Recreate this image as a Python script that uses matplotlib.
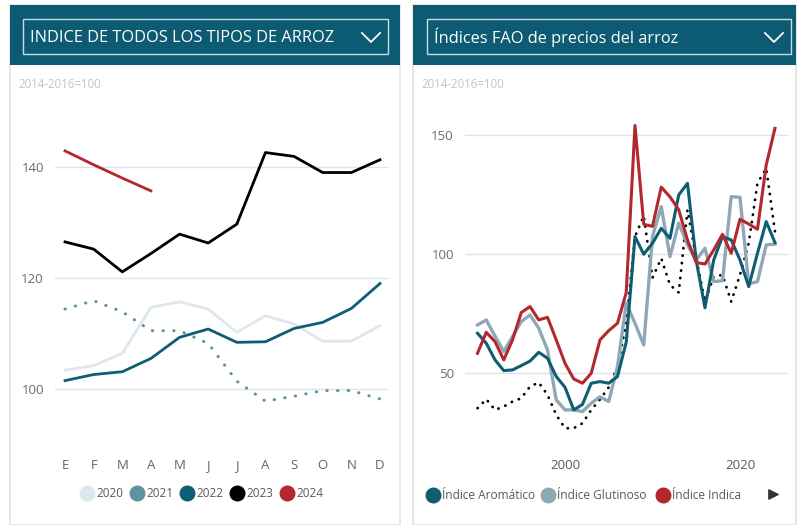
import matplotlib
matplotlib.use("Agg")
import matplotlib.pyplot as plt
from matplotlib.patches import Rectangle
import numpy as np

# ---- datos: indice de todos los tipos de arroz (2014-2016=100) ----
meses = ["E", "F", "M", "A", "M", "J", "J", "A", "S", "O", "N", "D"]
anios = ["2020", "2021", "2022", "2023", "2024"]
v2020 = [103.4, 104.2, 106.4, 114.7, 115.7, 114.4, 110.2, 113.2, 111.7, 108.6, 108.6, 111.4]
v2021 = [114.4, 115.9, 113.9, 110.5, 110.5, 108.2, 101.4, 97.8, 98.7, 99.7, 99.7, 98.2]
v2022 = [101.5, 102.6, 103.1, 105.5, 109.3, 110.8, 108.4, 108.5, 110.9, 112.0, 114.5, 119.0]
v2023 = [126.5, 125.2, 121.1, 124.4, 127.9, 126.3, 129.7, 142.6, 141.9, 139.0, 139.0, 141.3]
v2024 = [142.9, 140.4, 138.0, 135.7]

# ---- datos: indices FAO de precios del arroz, anuales ----
years = list(range(1990, 2025))
aromatico = [66.7, 62.5, 55.5, 51.0, 51.3, 53.1, 55.0, 58.7, 56.2, 48.5,
             44.0, 34.5, 36.8, 45.7, 46.4, 45.7, 48.5, 63.0, 107.3, 99.9,
             104.5, 110.8, 106.6, 124.8, 129.7, 97.2, 77.4, 97.5, 107.3, 105.9,
             97.5, 86.3, 100.3, 113.6, 104.8]
glutinoso = [70.2, 72.3, 65.5, 59.0, 65.3, 71.6, 74.4, 68.8, 59.7, 38.7,
             34.5, 34.5, 33.8, 37.3, 40.0, 38.0, 52.7, 79.3, 70.9, 61.8,
             107.3, 119.9, 98.9, 113.0, 103.8, 97.5, 102.4, 88.4, 88.8, 124.1,
             123.8, 87.4, 88.4, 103.8, 104.2]
indica = [58.3, 67.1, 63.2, 55.5, 63.9, 75.4, 77.9, 72.3, 73.4, 63.9,
          54.1, 47.5, 45.7, 49.9, 63.9, 67.8, 70.9, 83.8, 154.0, 112.5,
          111.6, 128.1, 124.0, 118.6, 105.9, 96.4, 95.8, 101.7, 108.3, 100.3,
          114.6, 112.6, 110.4, 137.4, 152.8]
japonica = [35.2, 39.0, 34.5, 35.9, 38.0, 39.4, 44.3, 46.0, 40.8, 32.4,
            26.8, 26.8, 28.9, 34.5, 38.9, 44.0, 52.5, 70.9, 107.3, 116.0,
            90.0, 98.2, 87.0, 83.8, 118.5, 98.2, 80.0, 90.5, 91.2, 80.0,
            91.2, 104.5, 129.7, 136.0, 109.4]

c_header = "#0c5b72"
c_grid = "#dde3e8"
c_tick = "#6b6b6b"
col_anios = ["#dde8ec", "#5e93a2", "#0e5d72", "#000000", "#b3282e"]
col_fao = ["#0e5d72", "#8fa8b6", "#b3282e"]

W, H = 798, 525
fig = plt.figure(figsize=(W / 100, H / 100), dpi=100)
fig.patch.set_facecolor("white")


def ax_px(x0, y0, x1, y1):
    # caja en pixeles (origen arriba a la izquierda) -> ejes de la figura
    return fig.add_axes([x0 / W, 1 - y1 / H, (x1 - x0) / W, (y1 - y0) / H])


# capa de decoracion en pixeles
ov = fig.add_axes([0, 0, 1, 1], zorder=-1)
ov.set_xlim(0, W)
ov.set_ylim(H, 0)
ov.axis("off")

for (px0, px1, box0, box1, titulo) in [(10, 400, 23, 388, "INDICE DE TODOS LOS TIPOS DE ARROZ"),
                                       (413, 796, 427, 791, "Índices FAO de precios del arroz")]:
    ov.add_patch(Rectangle((px0, 5), px1 - px0, 520, facecolor="white", edgecolor="#e3e3e3", lw=1.2))
    ov.add_patch(Rectangle((px0, 5), px1 - px0, 60, facecolor=c_header, edgecolor="none"))
    ov.add_patch(Rectangle((box0, 19), box1 - box0, 35, facecolor="none", edgecolor="#c9dbe1", lw=1))
    ov.text(box0 + 7, 37.5, titulo, color="white", fontsize=11.8, va="center", ha="left",
            family="Open Sans")
    ov.plot([box1 - 26, box1 - 17, box1 - 8], [33, 42, 33], color="white", lw=1.3)
    ov.text(px0 + 8, 85, "2014-2016=100", color="#c3c3c3", fontsize=8.3, va="center", ha="left",
            family="Open Sans")

# ---- panel izquierdo ----
ax1 = ax_px(55, 100, 388, 445)
xm = np.arange(len(meses))
ax1.plot(xm, v2020, color=col_anios[0], lw=2.0, solid_capstyle="round", zorder=2)
ax1.plot(xm, v2021, color=col_anios[1], lw=2.2, linestyle=(0, (0.1, 3.4)),
         dash_capstyle="round", zorder=2)
ax1.plot(xm, v2022, color=col_anios[2], lw=2.0, zorder=3)
ax1.plot(xm, v2023, color=col_anios[3], lw=2.0, zorder=3)
ax1.plot(xm[:len(v2024)], v2024, color=col_anios[4], lw=2.0, zorder=3)
ax1.set_xlim(-0.35, 11.28)
ax1.set_ylim(89.9, 152.07)
ax1.set_yticks([100, 120, 140])
ax1.set_xticks(xm)
ax1.set_xticklabels(meses)
ax1.grid(axis="y", color=c_grid, lw=1)
ax1.set_axisbelow(True)
for s in ax1.spines.values():
    s.set_visible(False)
ax1.tick_params(length=0, labelsize=9.5, colors=c_tick, pad=8)
ax1.tick_params(axis="x", pad=10, colors="#59637a")
for lab in ax1.get_xticklabels() + ax1.get_yticklabels():
    lab.set_family("Open Sans")

# leyenda izquierda
lx = [87, 137, 187, 237, 287]
for x, c, t in zip(lx, col_anios, anios):
    ov.scatter([x], [493], s=110, color=c, zorder=3)
    ov.text(x + 9, 493.5, t, fontsize=8.5, color="#5a5a5a", va="center", ha="left", family="Open Sans")

# ---- panel derecho ----
ax2 = ax_px(465, 100, 788, 445)
ax2.plot(years, japonica, color="black", lw=2.0, linestyle=(0, (0.1, 2.6)),
         dash_capstyle="round", zorder=2)
ax2.plot(years, glutinoso, color=col_fao[1], lw=2.4, zorder=3)
ax2.plot(years, aromatico, color=col_fao[0], lw=2.2, zorder=4)
ax2.plot(years, indica, color=col_fao[2], lw=2.2, zorder=5)
ax2.set_xlim(1988.57, 2025.49)
ax2.set_ylim(19.75, 164.7)
ax2.set_yticks([50, 100, 150])
ax2.set_xticks([2000, 2020])
ax2.grid(axis="y", color=c_grid, lw=1)
ax2.set_axisbelow(True)
for s in ax2.spines.values():
    s.set_visible(False)
ax2.tick_params(length=0, labelsize=9.5, colors=c_tick, pad=8)
ax2.tick_params(axis="x", pad=10, colors="#5a5a5a")
for lab in ax2.get_xticklabels() + ax2.get_yticklabels():
    lab.set_family("Open Sans")

# leyenda derecha
for x, c, t in zip([433, 548, 663], col_fao, ["Índice Aromático", "Índice Glutinoso", "Índice Indica"]):
    ov.scatter([x], [495], s=110, color=c, zorder=3)
    ov.text(x + 9, 495.5, t, fontsize=8.6, color="#5a5a5a", va="center", ha="left", family="Open Sans")
ov.scatter([773], [494], s=45, marker=">", color="#333333", zorder=3)

fig.savefig("out.png", dpi=100)
